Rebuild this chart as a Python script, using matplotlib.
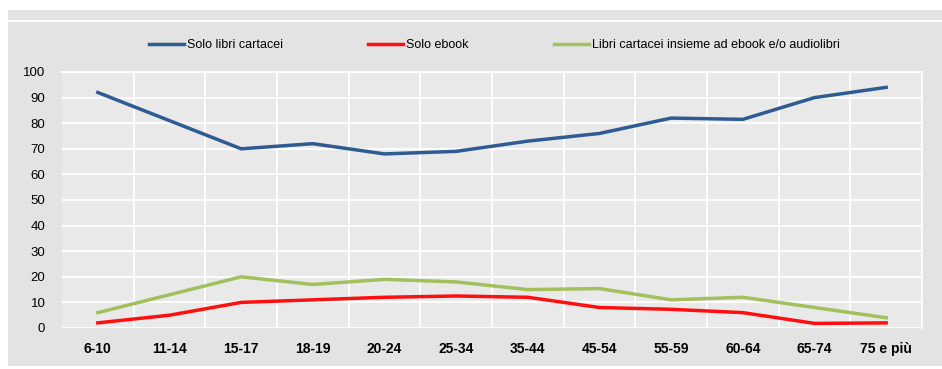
import matplotlib
matplotlib.use("Agg")
from matplotlib import pyplot as plt
from matplotlib.patches import Rectangle
from matplotlib.lines import Line2D

categories = ['6-10', '11-14', '15-17', '18-19', '20-24', '25-34',
              '35-44', '45-54', '55-59', '60-64', '65-74', '75 e più']
solo_cartacei = [92, 81, 70, 72, 68, 69, 73, 76, 82, 81.5, 90, 94]
solo_ebook = [2, 5, 10, 11, 12, 12.5, 12, 8, 7.3, 6, 1.8, 2]
insieme = [6, 13, 20, 17, 19, 18, 15, 15.4, 11, 12, 8, 4]
y_ticks = [0, 10, 20, 30, 40, 50, 60, 70, 80, 90, 100]

plt.rcParams['font.family'] = ['Liberation Sans', 'DejaVu Sans']

fig = plt.figure(figsize=(9.42, 3.69), dpi=100, facecolor='white')
W, H = 942, 369

# outer grey panel behind the chart
fig.patches.append(Rectangle((8 / W, 3 / H), 934 / W, 356 / H, transform=fig.transFigure,
                             facecolor='#e3e3e3', edgecolor='none', zorder=-2))
fig.lines.append(Line2D([8 / W, 942 / W], [1 - 21 / H, 1 - 21 / H], transform=fig.transFigure,
                        color='white', lw=1.5, alpha=0.9, zorder=-1))

ax = fig.add_axes([62 / W, 1 - 328 / H, 860 / W, 256 / H])
ax.set_facecolor('#e9e9e9')
x = range(len(categories))
ax.plot(x, solo_cartacei, color='#2f5b93', lw=2.5, label='Solo libri cartacei')
ax.plot(x, solo_ebook, color='#ff1010', lw=2.5, label='Solo ebook')
ax.plot(x, insieme, color='#a2c05c', lw=2.5, label='Libri cartacei insieme ad ebook e/o audiolibri')

ax.set_xlim(-0.5, len(categories) - 0.5)
ax.set_ylim(0, 100)
ax.set_yticks(y_ticks)
ax.set_xticks(list(x))
ax.set_xticklabels(categories, fontweight='bold', fontsize=10)
ax.tick_params(axis='y', labelsize=9.5, length=0, pad=12)
ax.tick_params(axis='x', length=0, pad=10)
ax.set_xticks([i + 0.5 for i in range(len(categories) - 1)], minor=True)
ax.tick_params(axis='x', which='minor', length=0)
ax.grid(axis='y', color='white', lw=1.3)
ax.grid(axis='x', which='minor', color='white', lw=1.3)
ax.set_axisbelow(True)
for s in ax.spines.values():
    s.set_color('white')
    s.set_linewidth(1.3)
ax.spines['left'].set_visible(False)
ax.spines['bottom'].set_visible(False)

fig.legend(loc='center', bbox_to_anchor=(0.525, 1 - 45 / H), ncol=3, frameon=False,
           fontsize=9, handlelength=2.8, handletextpad=0.25, columnspacing=6.8)

fig.savefig('out.png', dpi=100)
